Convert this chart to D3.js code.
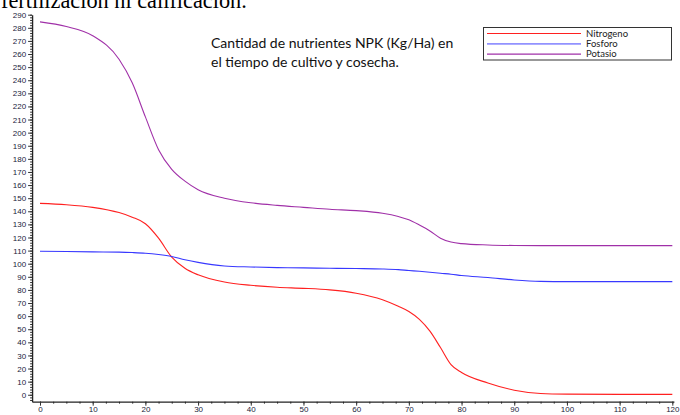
<!DOCTYPE html>
<html>
<head>
<meta charset="utf-8">
<script src="https://cdn.jsdelivr.net/npm/d3@7"></script>
<style>
  body { margin: 0; background: #fff; }
  svg { display: block; }
</style>
</head>
<body>
<svg id="chart"></svg>
<script>
// days after planting (x values shared by all three series)
const days = [0, 5, 10, 15, 17.5, 20, 22.5, 25, 27.5, 30, 35, 40, 45, 50, 55, 60, 65, 68, 70, 72, 74, 76, 78, 80, 85, 90, 95, 100, 110, 120];

const nitrogeno = [146, 145, 143, 139, 135.5, 130.5, 119.5, 105, 96.5, 91.5, 86, 83.5, 82, 81.2, 80, 77.5, 72.5, 67.5, 63.5, 57.5, 48.5, 36, 23, 17, 9, 3.5, 1, 0.5, 0.3, 0.3];
const fosforo = [109.5, 109.3, 109, 108.8, 108.5, 108, 107, 105.5, 103, 101, 98.3, 97.5, 97, 96.8, 96.5, 96.3, 96, 95.5, 94.8, 94.2, 93.5, 92.7, 92, 91, 89.5, 87.6, 86.5, 86.3, 86.3, 86.3];
const potasio = [284.5, 281, 274, 256, 238, 212, 187, 172, 163, 156.5, 150, 146.5, 144.5, 143, 141.5, 140.5, 138.5, 136, 133.5, 129.5, 125, 119.5, 116.5, 115.3, 114.3, 113.9, 113.8, 113.8, 113.8, 113.8];

const seriesNames = ["Nitrogeno", "Fosforo", "Potasio"];
const seriesColors = ["#ff2020", "#3838ff", "#a030a8"];
const seriesData = [nitrogeno, fosforo, potasio];

const xTicks = d3.range(0, 121, 10);
const yTicks = d3.range(0, 291, 10);

const title = "fertilización ni calificación.";
const noteLines = ["Cantidad de nutrientes NPK (Kg/Ha) en", "el tiempo de cultivo y cosecha."];

const WIDTH = 680;
const HEIGHT = 415;

const svg = d3.select("#chart").attr("width", WIDTH).attr("height", HEIGHT);

const x = d3.scaleLinear().domain([-1.5, 120.3]).range([32.1, 673.9]);
const y = d3.scaleLinear().domain([-5.3, 290]).range([401.7, 14.7]);

// cut-off heading from the page above, sized to fit its visible width
const titleText = svg.append("text")
  .attr("x", 1)
  .attr("font-family", "Liberation Serif, serif")
  .attr("font-size", 28)
  .attr("fill", "#000")
  .text(title);
const titleSize = 28 * 246 / titleText.node().getComputedTextLength();
titleText.attr("font-size", titleSize).attr("y", 8);

// minor ticks
const yMinor = d3.axisLeft(y).tickValues(d3.range(-4, 291, 2)).tickSize(2).tickFormat("");
const xMinor = d3.axisBottom(x).tickValues(d3.range(0, 121, 2.5)).tickSize(2).tickFormat("");

svg.append("g").attr("transform", `translate(${x.range()[0]},0)`).call(yMinor)
  .call((g) => g.select(".domain").remove());
svg.append("g").attr("transform", `translate(0,${y.range()[0]})`).call(xMinor)
  .call((g) => g.select(".domain").remove());

// major axes
const yAxis = d3.axisLeft(y).tickValues(yTicks).tickSize(4).tickSizeOuter(0).tickPadding(2);
const xAxis = d3.axisBottom(x).tickValues(xTicks).tickSize(4).tickSizeOuter(0).tickPadding(1);

svg.append("g").attr("transform", `translate(${x.range()[0]},0)`).call(yAxis);
svg.append("g").attr("transform", `translate(0,${y.range()[0]})`).call(xAxis);

svg.selectAll(".tick line").attr("stroke", "#333");
svg.selectAll(".domain").attr("stroke", "#222").attr("stroke-width", 1.3);
svg.selectAll(".tick text")
  .attr("font-family", "Liberation Sans, Arial, sans-serif")
  .attr("font-size", 8)
  .attr("fill", "#22223a");

// series lines
const line = d3.line()
  .x((d) => x(d[0]))
  .y((d) => y(d[1]))
  .curve(d3.curveMonotoneX);

seriesData.forEach((vals, i) => {
  svg.append("path")
    .datum(days.map((d, j) => [d, vals[j]]))
    .attr("fill", "none")
    .attr("stroke", seriesColors[i])
    .attr("stroke-width", 1.1)
    .attr("d", line);
});

// note text
svg.selectAll(".note")
  .data(noteLines)
  .join("text")
  .classed("note", true)
  .attr("x", 211)
  .attr("y", (d, i) => 48 + i * 19)
  .attr("font-family", "Lato, sans-serif")
  .attr("font-size", 14)
  .attr("fill", "#111")
  .text((d) => d);

// legend
const legend = svg.append("g");
legend.append("rect")
  .attr("x", 483.5)
  .attr("y", 27.5)
  .attr("width", 188)
  .attr("height", 32.5)
  .attr("fill", "#fff")
  .attr("stroke", "#333")
  .attr("stroke-width", 1);

const items = legend.selectAll(".item")
  .data(seriesNames)
  .join("g")
  .classed("item", true)
  .attr("transform", (d, i) => `translate(0,${33.5 + i * 10.3})`);

items.append("line")
  .attr("x1", 487)
  .attr("x2", 581)
  .attr("stroke", (d, i) => seriesColors[i])
  .attr("stroke-width", (d, i) => (i === 1 ? 1.8 : 1.1))
  .attr("stroke-opacity", (d, i) => (i === 1 ? 0.55 : 1));

items.append("text")
  .attr("x", 586)
  .attr("y", 3)
  .attr("font-family", "Lato, sans-serif")
  .attr("font-size", 9.5)
  .attr("fill", "#222")
  .text((d) => d);
</script>
</body>
</html>
